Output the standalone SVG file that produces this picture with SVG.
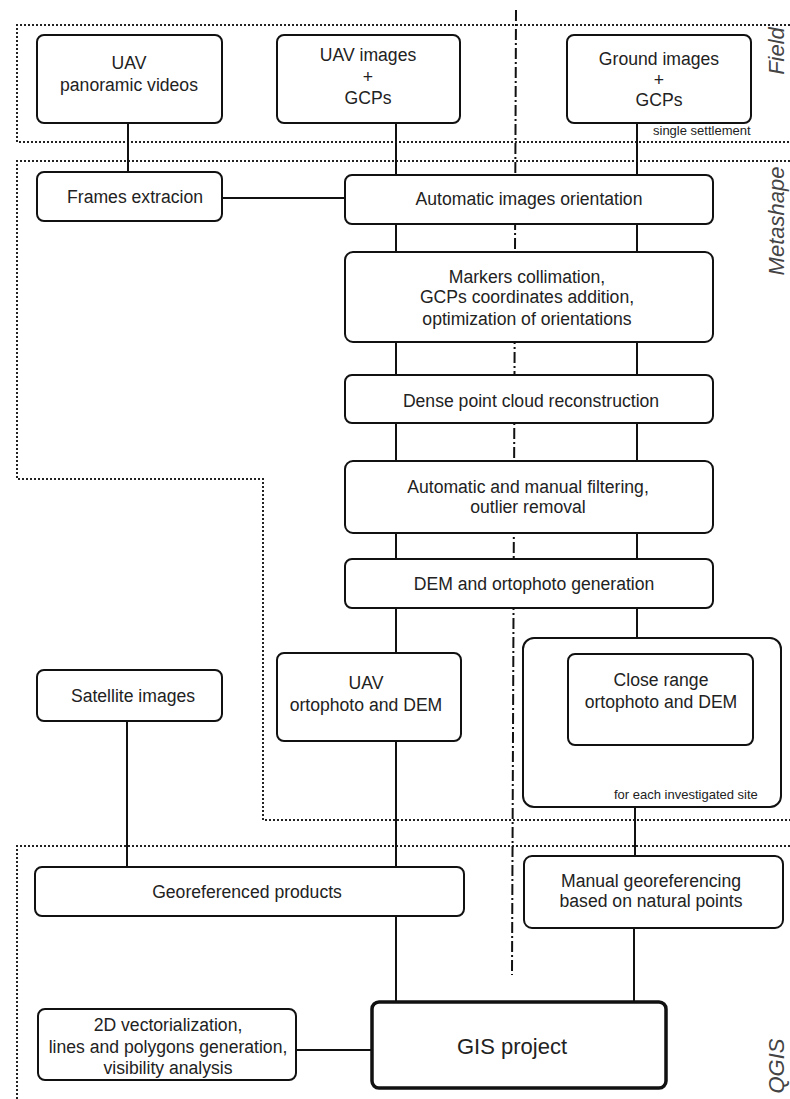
<svg xmlns="http://www.w3.org/2000/svg" width="790" height="1099" viewBox="0 0 790 1099">
<style>
.box{fill:#fff;stroke:#111;stroke-width:2}
.thick{fill:#fff;stroke:#111;stroke-width:3.5}
.t{font-family:"Liberation Sans",Arial,sans-serif;font-size:17.6px;fill:#222;text-anchor:middle}
.s{font-family:"Liberation Sans",Arial,sans-serif;font-size:13px;fill:#222}
.reg{font-family:"Liberation Sans",Arial,sans-serif;font-size:22px;font-style:italic;fill:#444;text-anchor:middle}
.dot{fill:none;stroke:#222;stroke-width:2;stroke-dasharray:2 2}
.dd{fill:none;stroke:#111;stroke-width:2;stroke-dasharray:11 3 2 3}
.c{fill:none;stroke:#111;stroke-width:2}
</style>
<rect width="790" height="1099" fill="#fff"/>
<g id="regions">
<path class="dot" d="M790 25 H17 V142 H790"/>
<path class="dot" d="M790 161 H17 V479 H263 V820 H790"/>
<path class="dot" d="M790 846 H17 V1099"/>
<path class="dd" d="M516 10 L512 975"/>
<text class="reg" transform="translate(784,51) rotate(-90)">Field</text>
<text class="reg" transform="translate(784,221) rotate(-90)">Metashape</text>
<text class="reg" transform="translate(784,1066) rotate(-90)">QGIS</text>
</g>
<g id="connectors">
<path class="c" d="M128 123 V172"/>
<path class="c" d="M222 198 H345"/>
<path class="c" d="M396 123 V1002"/>
<path class="c" d="M637 123 V654"/>
<path class="c" d="M635 807 V856"/>
<path class="c" d="M634 928 V1002"/>
<path class="c" d="M127 721 V867"/>
<path class="c" d="M296 1050 H372"/>
</g>
<g id="uav-videos"><rect class="box" x="37" y="35" width="185" height="88" rx="7"/><text class="t" x="129" y="69">UAV</text><text class="t" x="129" y="91">panoramic videos</text></g>
<g id="uav-images"><rect class="box" x="277" y="35" width="183" height="88" rx="7"/><text class="t" x="368" y="61">UAV images</text><text class="t" x="368" y="83">+</text><text class="t" x="368" y="104">GCPs</text></g>
<g id="ground-images"><rect class="box" x="567" y="35" width="184" height="88" rx="7"/><text class="t" x="659" y="65">Ground images</text><text class="t" x="659" y="86">+</text><text class="t" x="659" y="106">GCPs</text><text class="s" x="653" y="135">single settlement</text></g>
<g id="frames"><rect class="box" x="37" y="172" width="185" height="49" rx="7"/><text class="t" x="135" y="203">Frames extracion</text></g>
<g id="orientation"><rect class="box" x="345" y="175" width="368" height="49" rx="7"/><text class="t" x="529" y="205">Automatic images orientation</text></g>
<g id="markers"><rect class="box" x="345" y="252" width="368" height="90" rx="8"/><text class="t" x="527" y="283">Markers collimation,</text><text class="t" x="527" y="303">GCPs coordinates addition,</text><text class="t" x="527" y="325">optimization of orientations</text></g>
<g id="dense"><rect class="box" x="345" y="375" width="368" height="48" rx="7"/><text class="t" x="531" y="407">Dense point cloud reconstruction</text></g>
<g id="filtering"><rect class="box" x="345" y="461" width="368" height="72" rx="8"/><text class="t" x="528" y="493">Automatic and manual filtering,</text><text class="t" x="528" y="513">outlier removal</text></g>
<g id="dem-gen"><rect class="box" x="345" y="559" width="368" height="49" rx="7"/><text class="t" x="534" y="590">DEM and ortophoto generation</text></g>
<g id="uav-ortho"><rect class="box" x="277" y="653" width="184" height="88" rx="7"/><text class="t" x="366" y="689">UAV</text><text class="t" x="366" y="711">ortophoto and DEM</text></g>
<g id="site"><rect class="box" x="523" y="638" width="258" height="169" rx="11"/><text class="s" x="614" y="799">for each investigated site</text></g>
<g id="close-range"><rect class="box" x="568" y="654" width="185" height="91" rx="7"/><text class="t" x="661" y="686">Close range</text><text class="t" x="661" y="708">ortophoto and DEM</text></g>
<g id="satellite"><rect class="box" x="37" y="670" width="185" height="51" rx="7"/><text class="t" x="133" y="702">Satellite images</text></g>
<g id="georef"><rect class="box" x="35" y="867" width="429" height="49" rx="7"/><text class="t" x="247" y="898">Georeferenced products</text></g>
<g id="manual"><rect class="box" x="524" y="856" width="259" height="72" rx="8"/><text class="t" x="651" y="887">Manual georeferencing</text><text class="t" x="651" y="907">based on natural points</text></g>
<g id="gis"><rect class="thick" x="372" y="1002" width="294" height="86" rx="7"/><text class="t" x="512" y="1054" style="font-size:22px">GIS project</text></g>
<g id="vector"><rect class="box" x="38" y="1009" width="258" height="71" rx="7"/><text class="t" x="168" y="1031">2D vectorialization,</text><text class="t" x="168" y="1053">lines and polygons generation,</text><text class="t" x="168" y="1074">visibility analysis</text></g>
</svg>
